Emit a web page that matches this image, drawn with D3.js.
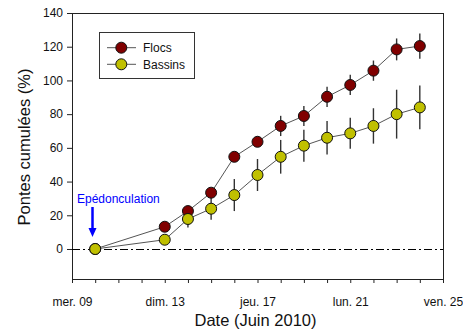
<!DOCTYPE html>
<html><head><meta charset="utf-8">
<script src="https://cdn.jsdelivr.net/npm/d3@7"></script>
<style>body{margin:0;background:#fff}svg{display:block;font-family:Arial,"Liberation Sans",sans-serif}</style>
</head><body>
<script>
const days = [10,13,14,15,16,17,18,19,20,21,22,23,24];
const flocs = [0,13.2,22.5,33.4,54.7,63.6,73,78.9,90.3,97.3,105.8,118.4,120.4];
const flocsErr = [0,1,2.5,2,2,3,6,6,6,6,6,6.5,7.5];
const bassins = [0,5.5,17.8,23.9,32,43.9,54.7,61.3,66,68.6,73,80,84];
const bassinsErr = [0,1,5,6.5,9.5,9.5,10,9.5,10,9.2,10.5,14.5,13];
const tickDays = [9,13,17,21,25];
const tickLabels = ["mer. 09","dim. 13","jeu. 17","lun. 21","ven. 25"];
const yTicks = [0,20,40,60,80,100,120,140];
const seriesNames = ["Flocs","Bassins"];
const seriesColors = ["#800000","#c0c000"];

const W=463,H=333;
const L=72,R=443,T=13,B=279;
const svg=d3.select("body").append("svg").attr("width",W).attr("height",H);
const x=d3.scaleLinear().domain([9,25]).range([L,R]);
const y=d3.scaleLinear().domain([-17.8,140]).range([B,T]);

// frame
svg.append("rect").attr("x",L+0.5).attr("y",T+0.5).attr("width",R-L).attr("height",B-T)
  .attr("fill","none").attr("stroke","#222").attr("stroke-width",1);

// y axis
const ya=svg.append("g").attr("transform",`translate(${L},0)`)
  .call(d3.axisLeft(y).tickValues(yTicks).tickSize(5).tickPadding(4));
ya.select(".domain").remove();
ya.selectAll("text").attr("font-size",12).attr("fill","#111").attr("font-family","Arial,'Liberation Sans',sans-serif");
ya.selectAll("line").attr("stroke","#222");

// x axis minor ticks
const xa=svg.append("g").attr("transform",`translate(0,${B})`)
  .call(d3.axisBottom(x).tickValues(d3.range(9,26)).tickSize(4).tickFormat(""));
xa.select(".domain").remove();
xa.selectAll("line").attr("stroke","#222");
const xl=svg.append("g").attr("transform",`translate(0,${B})`)
  .call(d3.axisBottom(x).tickValues(tickDays).tickSize(0).tickPadding(18).tickFormat((d,i)=>tickLabels[i]));
xl.select(".domain").remove();
xl.selectAll("text").attr("font-size",12).attr("fill","#111").attr("font-family","Arial,'Liberation Sans',sans-serif");

// zero dash-dot line
const y0=Math.round(y(0))+0.5;
svg.append("line").attr("x1",L).attr("x2",R).attr("y1",y0).attr("y2",y0)
  .attr("stroke","#000").attr("stroke-width",1).attr("stroke-dasharray","8,3,2,3");

// axis titles
svg.append("text").attr("x",(L+R)/2-2).attr("y",326).attr("text-anchor","middle")
  .attr("font-size",16.5).attr("fill","#111").text("Date (Juin 2010)");
svg.append("text").attr("transform",`translate(30,147) rotate(-90)`).attr("text-anchor","middle")
  .attr("font-size",16.5).attr("fill","#111").text("Pontes cumulées (%)");

// series
const allVals=[flocs,bassins], allErr=[flocsErr,bassinsErr];
const line=d3.line().x(d=>x(d[0])).y(d=>y(d[1]));
allVals.forEach((vals,s)=>{
  const pts=days.map((d,i)=>[d,vals[i],allErr[s][i]]);
  svg.append("path").datum(pts).attr("d",line).attr("fill","none").attr("stroke","#555").attr("stroke-width",1);
});
allVals.forEach((vals,s)=>{
  const pts=days.map((d,i)=>[d,vals[i],allErr[s][i]]);
  svg.append("g").selectAll("line").data(pts.filter(p=>p[2]>0)).join("line")
    .attr("x1",d=>x(d[0])).attr("x2",d=>x(d[0]))
    .attr("y1",d=>y(d[1]-d[2])).attr("y2",d=>y(d[1]+d[2]))
    .attr("stroke","#333").attr("stroke-width",1.4);
});
allVals.forEach((vals,s)=>{
  const pts=days.map((d,i)=>[d,vals[i]]);
  svg.append("g").selectAll("circle").data(pts).join("circle")
    .attr("cx",d=>x(d[0])).attr("cy",d=>y(d[1])).attr("r",5.5)
    .attr("fill",seriesColors[s]).attr("stroke","#111").attr("stroke-width",1);
});

// annotation
svg.append("text").attr("x",77).attr("y",203).attr("font-size",12).attr("fill","#0000ff").text("Epédonculation");
svg.append("line").attr("x1",92.5).attr("x2",92.5).attr("y1",207).attr("y2",230)
  .attr("stroke","#0000ff").attr("stroke-width",2.5);
svg.append("path").attr("d",`M${88.5},228 L${96.5},228 L${92.5},237 Z`).attr("fill","#0000ff");

// legend
const lg=svg.append("g");
lg.append("rect").attr("x",99.5).attr("y",32.5).attr("width",95).attr("height",46)
  .attr("fill","#fff").attr("stroke","#333").attr("stroke-width",1);
seriesNames.forEach((n,i)=>{
  const ly=47.7+i*16.6;
  lg.append("line").attr("x1",107).attr("x2",136).attr("y1",ly).attr("y2",ly).attr("stroke","#555");
  lg.append("circle").attr("cx",121.3).attr("cy",ly).attr("r",5.5).attr("fill",seriesColors[i]).attr("stroke","#111");
  lg.append("text").attr("x",143).attr("y",ly+4.3).attr("font-size",12).attr("fill","#111").text(n);
});
</script>
</body></html>
